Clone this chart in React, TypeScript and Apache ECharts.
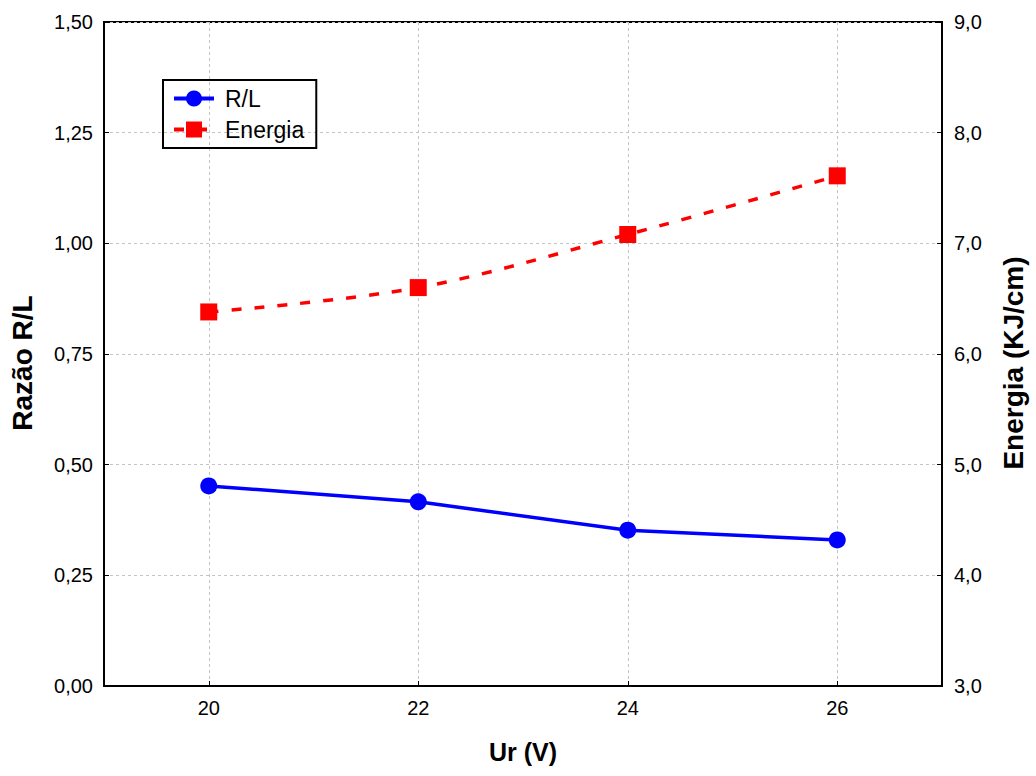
import React, { useEffect, useRef } from "react";
import * as echarts from "echarts";

const urValues = [20, 22, 24, 26];
const razaoRL = [0.452, 0.416, 0.352, 0.33];
const energia = [6.38, 6.6, 7.08, 7.61];
const xTicks = [20, 22, 24, 26];

const FONT = "Liberation Sans, Arial, sans-serif";
const GRID_LINE = { color: "#c4c4c4", type: [3, 3] as number[], width: 1 };

export default function App() {
  const ref = useRef<HTMLDivElement>(null);
  useEffect(() => {
    if (!ref.current) return;
    const chart = echarts.init(ref.current, undefined, { renderer: "svg" });
    chart.setOption({
      animation: false,
      backgroundColor: "#fff",
      textStyle: { fontFamily: FONT },
      grid: {
        left: 103,
        right: 94,
        top: 22,
        bottom: 90,
        show: true,
        borderColor: "#000",
        borderWidth: 2,
        backgroundColor: "transparent",
      },
      legend: {
        left: 163,
        top: 80,
        orient: "vertical",
        itemWidth: 40,
        itemHeight: 20,
        itemGap: 8,
        padding: [7, 12, 7, 9],
        borderColor: "#000",
        borderWidth: 2,
        borderRadius: 0,
        lineStyle: { width: 4 },
        textStyle: { fontSize: 23, color: "#000", fontFamily: FONT, padding: [0, 0, 0, 6] },
        data: ["R/L", "Energia"],
      },
      xAxis: {
        type: "value",
        min: 19,
        max: 27,
        name: "Ur (V)",
        nameLocation: "middle",
        nameGap: 53,
        nameTextStyle: { fontSize: 25, fontWeight: "bold", color: "#000", fontFamily: FONT },
        axisLine: { show: true, lineStyle: { color: "#000", width: 2 } },
        axisTick: { show: true, inside: true, length: 5, customValues: xTicks, lineStyle: { color: "#000" } },
        axisLabel: { customValues: xTicks, fontSize: 20, color: "#000", margin: 12, fontFamily: FONT },
        splitLine: { show: true, lineStyle: GRID_LINE },
      },
      yAxis: [
        {
          type: "value",
          min: 0,
          max: 1.5,
          interval: 0.25,
          name: "Razão R/L",
          nameLocation: "middle",
          nameGap: 68,
          nameTextStyle: {
            fontSize: 28,
            fontWeight: "bold",
            color: "#000",
            fontFamily: FONT,
            padding: [0, 18, 0, 0],
          },
          axisLine: { show: true, lineStyle: { color: "#000", width: 2 } },
          axisTick: { show: true, inside: true, length: 5, lineStyle: { color: "#000" } },
          axisLabel: {
            fontSize: 20,
            color: "#000",
            margin: 11,
            fontFamily: FONT,
            formatter: (v: number) => v.toFixed(2).replace(".", ","),
          },
          splitLine: { show: true, lineStyle: GRID_LINE },
        },
        {
          type: "value",
          min: 3,
          max: 9,
          interval: 1,
          name: "Energia (KJ/cm)",
          nameLocation: "middle",
          nameGap: 57,
          nameRotate: 90,
          nameTextStyle: {
            fontSize: 28,
            fontWeight: "bold",
            color: "#000",
            fontFamily: FONT,
            padding: [0, 18, 0, 0],
          },
          axisLine: { show: true, lineStyle: { color: "#000", width: 2 } },
          axisTick: { show: true, inside: true, length: 5, lineStyle: { color: "#000" } },
          axisLabel: {
            fontSize: 20,
            color: "#000",
            margin: 12,
            fontFamily: FONT,
            formatter: (v: number) => v.toFixed(1).replace(".", ","),
          },
          splitLine: { show: false },
        },
      ],
      series: [
        {
          name: "R/L",
          type: "line",
          yAxisIndex: 0,
          data: urValues.map((x, i) => [x, razaoRL[i]]),
          symbol: "circle",
          symbolSize: 17,
          itemStyle: { color: "#0000ff" },
          lineStyle: { color: "#0000ff", width: 3.5 },
        },
        {
          name: "Energia",
          type: "line",
          yAxisIndex: 1,
          data: urValues.map((x, i) => [x, energia[i]]),
          symbol: "rect",
          symbolSize: 17,
          smooth: 0.35,
          itemStyle: { color: "#ff0000" },
          lineStyle: { color: "#ff0000", width: 3.5, type: [10, 13] },
        },
      ],
    });
    return () => chart.dispose();
  }, []);
  return (
    <div
      ref={ref}
      style={{ position: "fixed", left: 0, top: 0, width: 1036, height: 776, background: "#fff" }}
    />
  );
}
